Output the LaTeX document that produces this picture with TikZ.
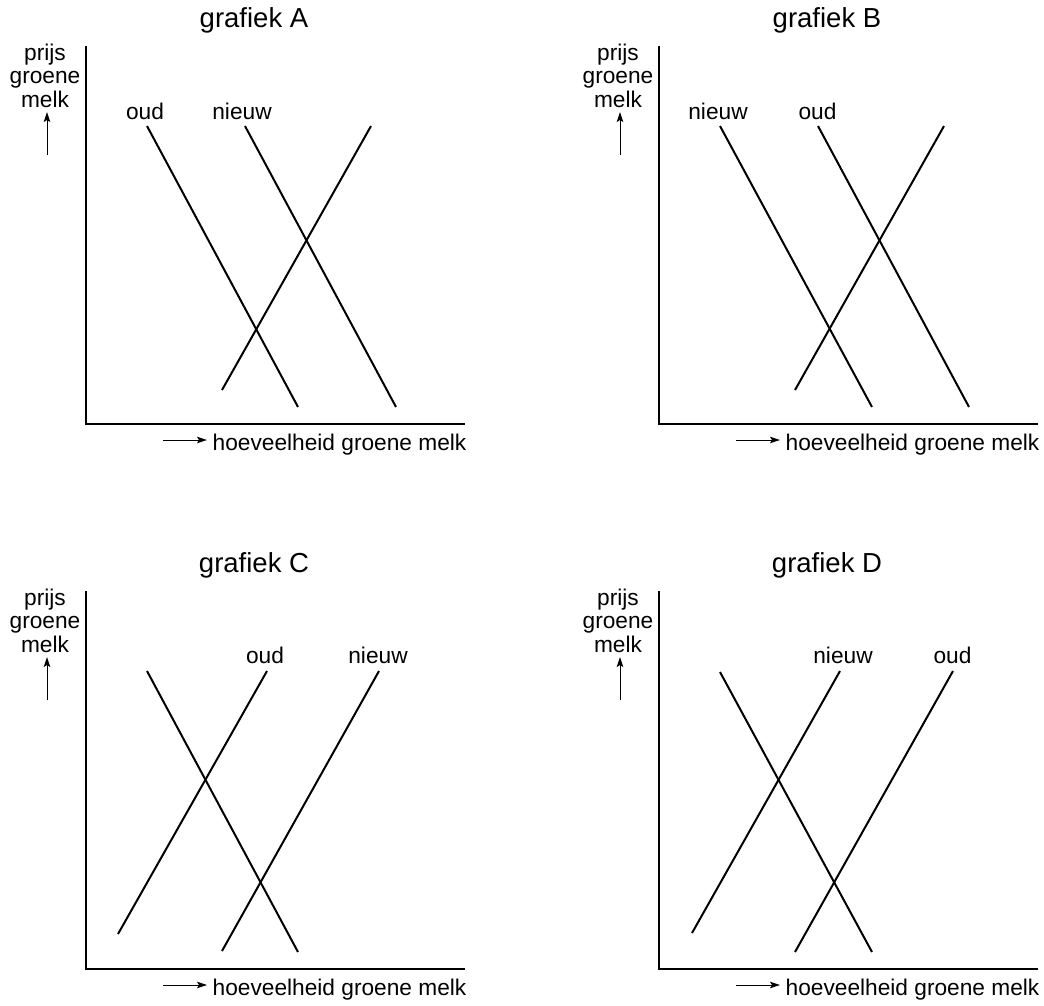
\documentclass[tikz,border=0pt]{standalone}
\usepackage{fontspec}
\setmainfont{Liberation Sans}
\usetikzlibrary{arrows.meta}
\tikzset{
  x={(1pt,0)}, y={(0,-1pt)},
  curve/.style={line width=2pt, line cap=butt},
  axisline/.style={line width=1.9pt},
  thinarrow/.style={line width=1pt, -{Stealth[length=10pt,width=6.5pt,inset=2pt]}},
  lbl/.style={inner sep=0pt, anchor=base, font=\fontsize{22.7}{24}\selectfont},
  ttl/.style={inner sep=0pt, anchor=base, font=\fontsize{27.5}{29}\selectfont},
}
\newcommand\graphframe[2]{%
  \begin{scope}[shift={(#2)}]
    \node[ttl] (#1-title) at (254,27) {grafiek #1};
    \node[lbl] (#1-p1) at (45,60) {prijs};
    \node[lbl] (#1-p2) at (45,83.5) {groene};
    \node[lbl] (#1-p3) at (45,107) {melk};
    \coordinate (#1-ua) at (47,155);
    \coordinate (#1-ub) at (47,112);
    \draw[thinarrow] (#1-ua) -- (#1-ub);
    \coordinate (#1-top) at (86,46);
    \coordinate (#1-org) at (86,424);
    \coordinate (#1-end) at (465,424);
    \draw[axisline] (#1-top) -- (#1-org) -- (#1-end);
    \coordinate (#1-xa) at (163,440);
    \coordinate (#1-xb) at (207,440);
    \draw[thinarrow] (#1-xa) -- (#1-xb);
    \node[lbl, anchor=base west] (#1-xl) at (212.5,450) {hoeveelheid groene melk};
  \end{scope}}
\begin{document}
\begin{tikzpicture}
\useasboundingbox (0,0) rectangle (1044,1005);
% ---------- grafiek A ----------
\graphframe{A}{0,0}
\begin{scope}
  \coordinate (A-d1a) at (147,126); \coordinate (A-d1b) at (298,407);
  \coordinate (A-d2a) at (245,126); \coordinate (A-d2b) at (396,407);
  \coordinate (A-sa) at (222,390);  \coordinate (A-sb) at (371,126);
  \draw[curve] (A-d1a) -- (A-d1b);
  \draw[curve] (A-d2a) -- (A-d2b);
  \draw[curve] (A-sa) -- (A-sb);
  \node[lbl] (A-oud) at (145,119) {oud};
  \node[lbl] (A-nieuw) at (242,119) {nieuw};
\end{scope}
% ---------- grafiek B ----------
\graphframe{B}{573,0}
\begin{scope}[shift={(573,0)}]
  \coordinate (B-d1a) at (147,126); \coordinate (B-d1b) at (299,407);
  \coordinate (B-d2a) at (245,126); \coordinate (B-d2b) at (396,407);
  \coordinate (B-sa) at (222,390);  \coordinate (B-sb) at (371,126);
  \draw[curve] (B-d1a) -- (B-d1b);
  \draw[curve] (B-d2a) -- (B-d2b);
  \draw[curve] (B-sa) -- (B-sb);
  \node[lbl] (B-nieuw) at (145,119) {nieuw};
  \node[lbl] (B-oud) at (244.5,119) {oud};
\end{scope}
% ---------- grafiek C ----------
\graphframe{C}{0,545}
\begin{scope}[shift={(0,545)}]
  \coordinate (C-da) at (147,126);  \coordinate (C-db) at (298,407);
  \coordinate (C-s1a) at (118,389); \coordinate (C-s1b) at (267,126);
  \coordinate (C-s2a) at (222,406); \coordinate (C-s2b) at (379,126);
  \draw[curve] (C-da) -- (C-db);
  \draw[curve] (C-s1a) -- (C-s1b);
  \draw[curve] (C-s2a) -- (C-s2b);
  \node[lbl] (C-oud) at (265,118) {oud};
  \node[lbl] (C-nieuw) at (378,118) {nieuw};
\end{scope}
% ---------- grafiek D ----------
\graphframe{D}{573,545}
\begin{scope}[shift={(573,545)}]
  \coordinate (D-da) at (147,127);  \coordinate (D-db) at (299,407);
  \coordinate (D-s1a) at (119,388); \coordinate (D-s1b) at (267,126);
  \coordinate (D-s2a) at (222,407); \coordinate (D-s2b) at (380,126);
  \draw[curve] (D-da) -- (D-db);
  \draw[curve] (D-s1a) -- (D-s1b);
  \draw[curve] (D-s2a) -- (D-s2b);
  \node[lbl] (D-nieuw) at (270,118) {nieuw};
  \node[lbl] (D-oud) at (379.5,118) {oud};
\end{scope}
\end{tikzpicture}
\end{document}
